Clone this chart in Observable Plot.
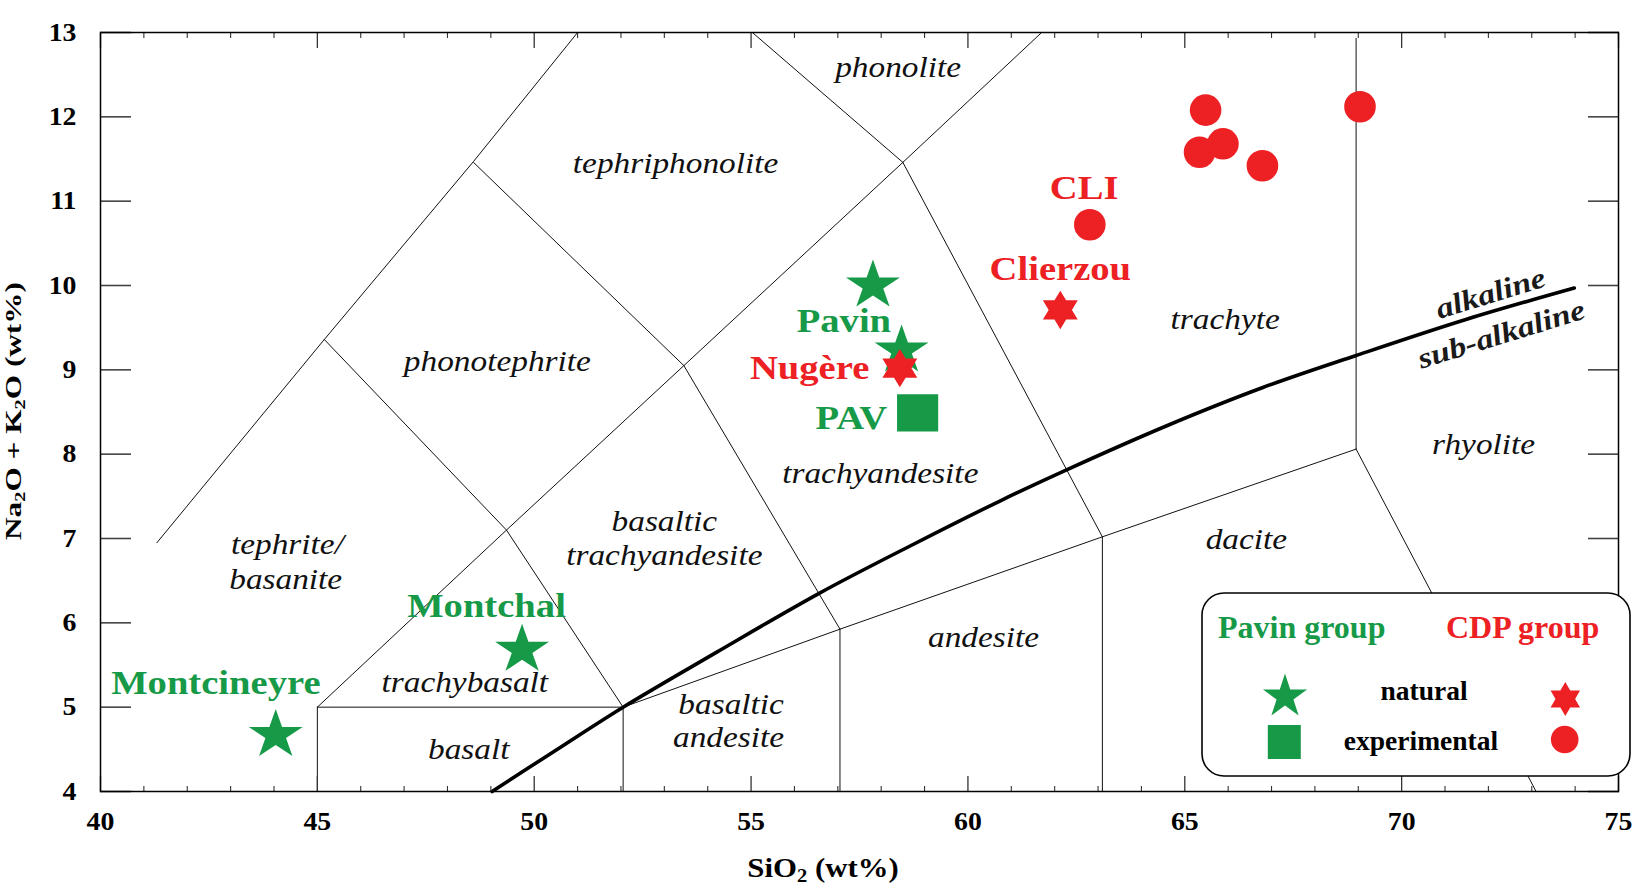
<!DOCTYPE html>
<html><head><meta charset="utf-8">
<script src="https://cdn.jsdelivr.net/npm/d3@7"></script>
<script src="https://cdn.jsdelivr.net/npm/@observablehq/plot@0.6"></script>
<style>
html,body{margin:0;padding:0;background:#fff;}
#chart{position:relative;width:1632px;height:888px;}
</style></head><body><div id="chart"></div>
<script>
// ---------- data (SiO2 wt%, Na2O+K2O wt%) ----------
const xMajorTicks = [40, 45, 50, 55, 60, 65, 70, 75];
const xMinorTicks = [41,42,43,44,46,47,48,49,51,52,53,54,56,57,58,59,61,62,63,64,66,67,68,69,71,72,73,74];
const yTicks = [4, 5, 6, 7, 8, 9, 10, 11, 12, 13];

// TAS field boundaries (polylines)
const fieldBoundaries = [
  [[41.3, 6.95], [45.16, 9.36], [48.6, 11.47], [51.0, 13.0]],
  [[45.0, 5.0], [49.36, 7.1], [53.45, 9.05], [58.5, 11.46], [61.7, 13.0]],
  [[45.16, 9.36], [49.36, 7.1], [52.05, 5.0]],
  [[48.6, 11.46], [53.45, 9.05]],
  [[53.45, 9.05], [57.05, 5.925]],
  [[55.03, 13.0], [58.5, 11.46]],
  [[58.5, 11.46], [63.1, 7.02]],
  [[52.05, 5.0], [57.05, 5.925], [63.1, 7.02], [68.95, 8.06]],
  [[45.0, 5.0], [52.05, 5.0]],
  [[45.0, 4.0], [45.0, 5.0]],
  [[52.05, 4.0], [52.05, 5.0]],
  [[57.05, 4.0], [57.05, 5.925]],
  [[63.1, 4.0], [63.1, 7.02]],
  [[68.95, 8.06], [68.95, 12.93]],
  [[68.95, 8.06], [73.1, 4.0]]
];

// alkaline / sub-alkaline divide
const alkalineCurve = [[49.03, 4.0], [50.5, 4.49], [52.05, 5.0], [54.2, 5.65], [56.57, 6.35], [58.7, 6.92],
  [60.76, 7.45], [62.3, 7.82], [64.6, 8.34], [66.8, 8.79], [68.95, 9.17], [71.5, 9.6], [73.98, 9.97]];

// samples
const pavinNaturalSiO2 = [44.04, 49.72, 57.81, 58.47];
const pavinNaturalAlk  = [4.67, 5.68, 10.0, 9.23];
const pavinExpSiO2 = [58.84];
const pavinExpAlk  = [8.49];
const cdpNaturalSiO2 = [58.43, 62.13];
const cdpNaturalAlk  = [9.02, 9.71];
const cdpExpSiO2 = [62.81, 65.48, 65.34, 65.88, 66.79, 69.04];
const cdpExpAlk  = [10.72, 12.08, 11.58, 11.68, 11.42, 12.12];

// field names
const fieldLabelText = ["phonolite","tephriphonolite","phonotephrite","tephrite/","basanite","trachybasalt","basalt",
  "basaltic","trachyandesite","trachyandesite","basaltic","andesite","andesite","dacite","trachyte","rhyolite"];
const fieldLabelX = [58.39, 53.26, 49.15, 44.31, 44.27, 48.40, 48.49, 53.00, 53.00, 57.98, 54.54, 54.48, 60.36, 66.42, 65.93, 71.89];
const fieldLabelY = [12.47, 11.33, 8.99, 6.82, 6.40, 5.18, 4.39, 7.09, 6.69, 7.66, 4.92, 4.53, 5.71, 6.88, 9.49, 8.00];

// site names
const siteLabelText  = ["Montcineyre", "Montchal", "Pavin", "PAV", "Nugère", "Clierzou", "CLI"];
const siteLabelX     = [42.66, 48.90, 57.14, 57.31, 56.35, 62.13, 62.68];
const siteLabelY     = [5.16, 6.07, 9.45, 8.30, 8.89, 10.07, 11.02];
const siteLabelGroup = ["Pavin", "Pavin", "Pavin", "Pavin", "CDP", "CDP", "CDP"];

// series divide labels
const divideText = ["alkaline", "sub-alkaline"];
const divideX = [72.05, 72.30];
const divideY = [9.905, 9.42];

const groupNames = ["Pavin group", "CDP group"];
const typeNames = ["natural", "experimental"];

// ---------- styles ----------
const GREEN = "#179a48", RED = "#ed2024";
const FONT = "'Liberation Serif', 'Times New Roman', serif";

function starShape(sx) {
  return {draw(ctx, size) {
    const R = Math.sqrt(size / Math.PI), ri = R * 0.382;
    for (let i = 0; i < 10; i++) {
      const a = -Math.PI / 2 + i * Math.PI / 5, rad = i % 2 ? ri : R;
      const px = Math.cos(a) * rad * sx, py = Math.sin(a) * rad;
      if (i) ctx.lineTo(px, py); else ctx.moveTo(px, py);
    }
    ctx.closePath();
  }};
}
function hexagramShape(sx) {
  return {draw(ctx, size) {
    const R = Math.sqrt(size / Math.PI), ri = R / Math.sqrt(3);
    for (let i = 0; i < 12; i++) {
      const a = -Math.PI / 2 + i * Math.PI / 6, rad = i % 2 ? ri : R;
      const px = Math.cos(a) * rad * sx, py = Math.sin(a) * rad;
      if (i) ctx.lineTo(px, py); else ctx.moveTo(px, py);
    }
    ctx.closePath();
  }};
}
function rectShape(aspect) {
  return {draw(ctx, size) {
    const h = Math.sqrt(size / Math.PI), w = h * aspect;
    ctx.moveTo(-w, -h); ctx.lineTo(w, -h); ctx.lineTo(w, h); ctx.lineTo(-w, h); ctx.closePath();
  }};
}

// ---------- tables ----------
const boundaryRows = fieldBoundaries.flatMap((pts, seg) => pts.map(([x, y]) => ({seg, x, y})));
const curveRows = alkalineCurve.map(([x, y]) => ({x, y}));
const rows = (xs, ys) => xs.map((x, i) => ({x, y: ys[i]}));
const fieldRows = fieldLabelText.map((t, i) => ({t, x: fieldLabelX[i], y: fieldLabelY[i]}));
const siteRows = siteLabelText.map((t, i) => ({t, x: siteLabelX[i], y: siteLabelY[i], g: siteLabelGroup[i]}));
const divideRows = divideText.map((t, i) => ({t, x: divideX[i], y: divideY[i]}));

const svg = Plot.plot({
  width: 1632, height: 888,
  marginLeft: 100, marginRight: 14, marginTop: 32, marginBottom: 97,
  x: {domain: [40, 75], axis: null},
  y: {domain: [4, 13], axis: null},
  style: {fontFamily: FONT, fontSize: "26px", fontWeight: "bold", color: "black", background: "white", overflow: "visible"},
  marks: [
    Plot.line(boundaryRows, {x: "x", y: "y", z: "seg", stroke: "#111", strokeWidth: 1}),
    Plot.line(curveRows, {x: "x", y: "y", stroke: "black", strokeWidth: 3.6, curve: "catmull-rom"}),
    Plot.text(fieldRows, {x: "x", y: "y", text: "t", fontStyle: "italic", fontWeight: "normal", fontSize: 28.5,
      fill: "#111", textAnchor: "middle", lineAnchor: "bottom"}),
    Plot.text(divideRows, {x: "x", y: "y", text: "t", fontStyle: "italic", fontWeight: "bold", fontSize: 29,
      fill: "#1a1a1a", textAnchor: "middle", lineAnchor: "middle", rotate: -17}),
    Plot.text(siteRows, {x: "x", y: "y", text: "t", fontWeight: "bold", fontSize: 33,
      fill: d => d.g === "Pavin" ? GREEN : RED, textAnchor: "middle", lineAnchor: "bottom"}),
    Plot.dot(rows(pavinNaturalSiO2, pavinNaturalAlk), {x: "x", y: "y", symbol: starShape(1.09), r: 26, fill: GREEN, stroke: "none"}),
    Plot.dot(rows(pavinExpSiO2, pavinExpAlk), {x: "x", y: "y", symbol: rectShape(1.1), r: 18.7, fill: GREEN, stroke: "none"}),
    Plot.dot(rows(cdpExpSiO2, cdpExpAlk), {x: "x", y: "y", symbol: "circle", r: 15.8, fill: RED, stroke: "none"}),
    Plot.dot(rows(cdpNaturalSiO2, cdpNaturalAlk), {x: "x", y: "y", symbol: hexagramShape(1.05), r: 19.2, fill: RED, stroke: "none"}),
    // ticks (inward)
    Plot.axisX({ticks: xMajorTicks, anchor: "bottom", tickSize: -15, fill: "none", label: null, stroke: "#333", strokeWidth: 1.3}),
    Plot.axisX({ticks: xMinorTicks, anchor: "bottom", tickSize: -5, fill: "none", label: null, stroke: "#333", strokeWidth: 1.1}),
    Plot.axisX({ticks: xMajorTicks, anchor: "top", tickSize: -15, fill: "none", label: null, stroke: "#333", strokeWidth: 1.3}),
    Plot.axisX({ticks: xMinorTicks, anchor: "top", tickSize: -5, fill: "none", label: null, stroke: "#333", strokeWidth: 1.1}),
    Plot.axisY({ticks: yTicks, anchor: "left", tickSize: -31, fill: "none", label: null, stroke: "#444", strokeWidth: 1.6}),
    Plot.axisY({ticks: yTicks, anchor: "right", tickSize: -31, fill: "none", label: null, stroke: "#444", strokeWidth: 1.6}),
    // tick labels
    Plot.axisX({ticks: xMajorTicks, anchor: "bottom", tickSize: 0, tickPadding: 20, label: null, fontSize: 26, fontWeight: "bold", fill: "black"}),
    Plot.axisY({ticks: yTicks, anchor: "left", tickSize: 0, tickPadding: 24, label: null, fontSize: 26, fontWeight: "bold", fill: "black"}),
    Plot.frame({stroke: "black", strokeWidth: 1.5})
  ]
});

// horizontal stretch of the figure's lettering
const sel = d3.select(svg);
function stretch(selector, sx) {
  sel.selectAll(selector).each(function () {
    const t = this.getAttribute("transform") || "";
    this.setAttribute("transform", t + ` scale(${sx},1)`);
  });
}
stretch('g[aria-label="text"] text', 1.17);
stretch('g[aria-label="x-axis tick label"] text', 1.07);
stretch('g[aria-label="y-axis tick label"] text', 1.07);

// axis titles with subscripts
const xt = sel.append("text").attr("transform", "translate(823,877) scale(1.14,1)")
  .attr("text-anchor", "middle").attr("fill", "black")
  .style("font-family", FONT).style("font-weight", "bold").style("font-size", "27px");
xt.append("tspan").text("SiO");
xt.append("tspan").attr("font-size", "18px").attr("dy", 5).text("2");
xt.append("tspan").attr("dy", -5).text(" (wt%)");

const yt = sel.append("text").attr("transform", "translate(20.7,411) rotate(-90) scale(1.36,1)")
  .attr("text-anchor", "middle").attr("fill", "black")
  .style("font-family", FONT).style("font-weight", "bold").style("font-size", "23px");
yt.append("tspan").text("Na");
yt.append("tspan").attr("font-size", "15px").attr("dy", 4).text("2");
yt.append("tspan").attr("dy", -4).text("O + K");
yt.append("tspan").attr("font-size", "15px").attr("dy", 4).text("2");
yt.append("tspan").attr("dy", -4).text("O (wt%)");

// legend
const lg = sel.append("g").attr("class", "legend");
lg.append("rect").attr("x", 1202).attr("y", 593).attr("width", 428).attr("height", 183).attr("rx", 22)
  .attr("fill", "white").attr("stroke", "black").attr("stroke-width", 1.6);
const ltext = (x, y, t, color, size, anchor) => lg.append("text").attr("x", x).attr("y", y).text(t)
  .attr("fill", color).attr("text-anchor", anchor)
  .style("font-family", FONT).style("font-weight", "bold").style("font-size", size + "px");
ltext(1218, 638, groupNames[0], GREEN, 32, "start");
ltext(1446, 638, groupNames[1], RED, 32, "start");
ltext(1424, 700, typeNames[0], "black", 27.5, "middle");
ltext(1421, 750, typeNames[1], "black", 27.5, "middle");
const lsym = (cx, cy, type, r, color) => lg.append("path")
  .attr("transform", `translate(${cx},${cy})`)
  .attr("d", d3.symbol(type, Math.PI * r * r)()).attr("fill", color);
lsym(1285, 696.7, starShape(1.0), 23.2, GREEN);
lsym(1284.3, 742, rectShape(0.97), 17, GREEN);
lsym(1565.3, 699, hexagramShape(1.0), 17, RED);
lsym(1564.7, 739.5, d3.symbolCircle, 13.8, RED);

document.getElementById("chart").append(svg);
</script>
</body></html>
